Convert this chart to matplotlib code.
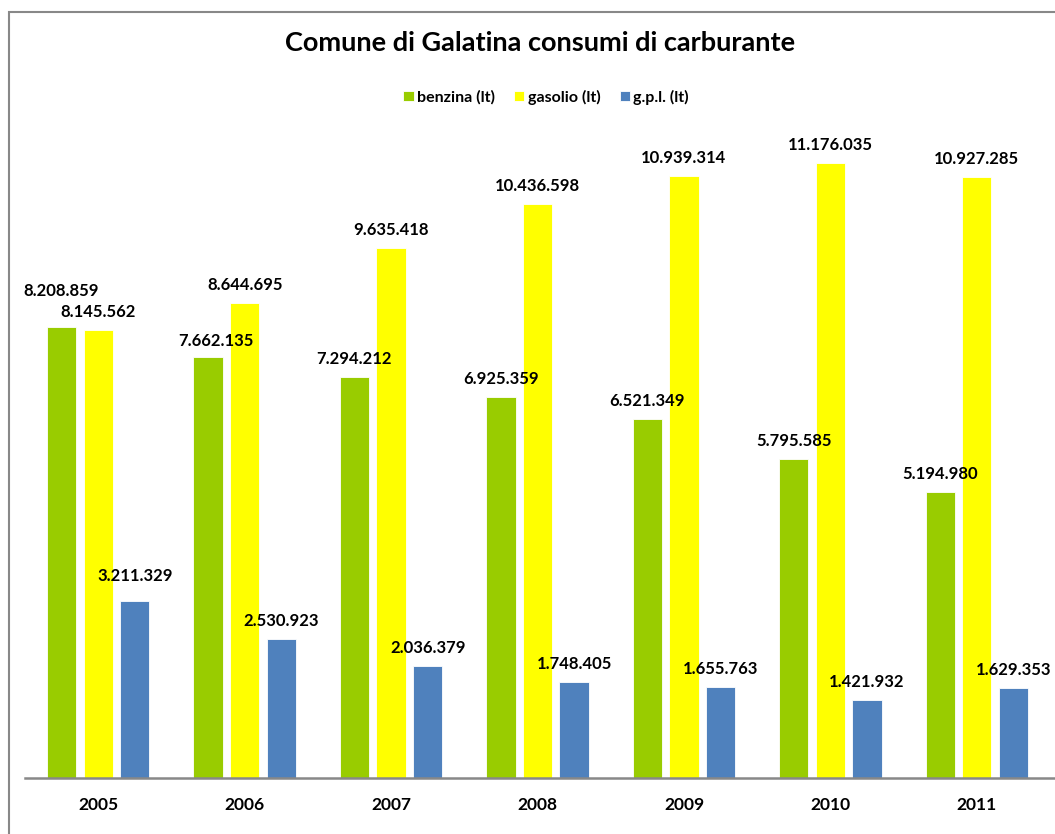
import matplotlib
matplotlib.use('Agg')
import matplotlib.pyplot as plt
from matplotlib.patches import Rectangle
import numpy as np

years = ['2005', '2006', '2007', '2008', '2009', '2010', '2011']
benzina = [8208859, 7662135, 7294212, 6925359, 6521349, 5795585, 5194980]
gasolio = [8145562, 8644695, 9635418, 10436598, 10939314, 11176035, 10927285]
gpl = [3211329, 2530923, 2036379, 1748405, 1655763, 1421932, 1629353]

series = [('benzina (lt)', benzina, '#99CC00'),
          ('gasolio (lt)', gasolio, '#FFFF00'),
          ('g.p.l. (lt)', gpl, '#4F81BD')]

# label nudges in pixels (dx, dy) where the default spot was moved by hand
nudge = {(0, 0): (0, 36), (0, 2): (0, 25), (1, 0): (8, 16)}

def fmt(v):
    return '{:,}'.format(v).replace(',', '.')

FONT = 'Lato'
W, H = 1055, 834
fig = plt.figure(figsize=(W / 100, H / 100), dpi=100)
ax = fig.add_axes([25 / W, (H - 778) / H, 1030 / W, 660 / H])

x = np.arange(len(years))
width = 0.2
for i, (name, vals, col) in enumerate(series):
    pos = x + (i - 1) * 0.25
    ax.bar(pos, vals, width, color=col, label=name, edgecolor='white', linewidth=0.6)
    for j, v in enumerate(vals):
        dx, dy = nudge.get((j, i), (0, 18))
        ax.annotate(fmt(v), (pos[j], v), xytext=(dx * 0.72, dy * 0.72),
                    textcoords='offset points', ha='center', va='center',
                    fontsize=12, fontweight='bold', family=FONT, color='black')

ax.set_xlim(-0.5, 6.534)
ax.set_ylim(0, 12000000)
ax.set_yticks([])
ax.set_xticks(x)
ax.set_xticklabels(years, fontsize=12.5, fontweight='bold', family=FONT)
ax.tick_params(axis='x', length=0, pad=14)
for s in ['top', 'right', 'left']:
    ax.spines[s].set_visible(False)
ax.spines['bottom'].set_color('#888888')
ax.spines['bottom'].set_linewidth(1.8)

fig.text(540 / W, 1 - 43 / H, 'Comune di Galatina consumi di carburante',
         ha='center', va='center', fontsize=19.5, fontweight='bold', family=FONT)

leg = fig.legend(loc='center', bbox_to_anchor=(546 / W, 1 - 97 / H), ncol=3,
                 frameon=False, prop={'family': FONT, 'weight': 'bold', 'size': 11.5},
                 handlelength=0.65, handleheight=0.65, handletextpad=0.2,
                 columnspacing=1.2)

fig.patches.append(Rectangle((9 / W, -0.1), 1.2, 1.1 - 12 / H, transform=fig.transFigure,
                             fill=False, edgecolor='#888888', linewidth=1.5))

plt.savefig('out.png', dpi=100)
